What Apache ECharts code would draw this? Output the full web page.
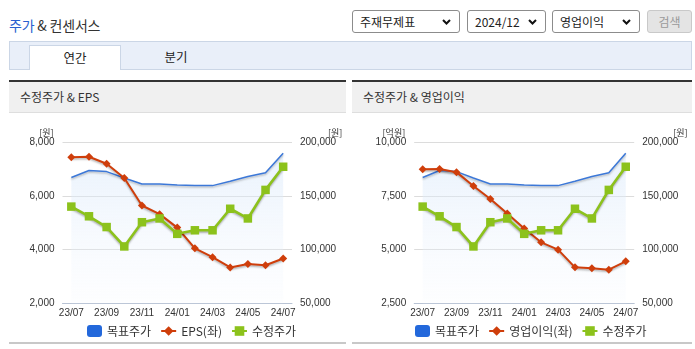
<!DOCTYPE html>
<html><head><meta charset="utf-8">
<script src="https://cdn.jsdelivr.net/npm/echarts@6/dist/echarts.min.js"></script>
<style>
body{margin:0;width:695px;height:349px;background:#fff;position:relative;overflow:hidden;font-family:'Noto Sans CJK KR',sans-serif;color:#333}
.a{position:absolute;box-sizing:border-box}
.title{left:9px;top:13px;font-size:14px;line-height:24px;color:#333;letter-spacing:-0.2px;white-space:nowrap}
.title span{color:#2a5fcf}
.sel{top:10px;height:23px;border:1px solid #8c8c8c;border-radius:3px;background:#fff;font-size:12px;line-height:21px;padding-left:7px;color:#222;white-space:nowrap}
.sel svg{position:absolute;right:8px;top:8px}
.btn{left:647px;top:10px;width:45px;height:23px;border:1px solid #c9c9c9;border-radius:3px;background:#e4e4e4;color:#9a9a9a;font-size:12px;line-height:21px;text-align:center}
.tabbar{left:9px;top:41px;width:683px;height:29px;background:#e9eff9;border:1px solid #cbd6e6}
.tab{left:29px;top:45px;width:92px;height:25px;background:#fff;border:1px solid #cbd6e6;border-bottom:none;font-size:12.5px;line-height:23px;text-align:center;color:#222}
.tab2{left:150px;top:45px;width:52px;height:24px;font-size:12.5px;line-height:23px;text-align:center;color:#222}
.ph{top:80px;height:33px;border-top:2px solid #333;background:#f0f0f0;border-bottom:1px solid #dedede;font-size:12px;line-height:30px;padding-left:11px;color:#333;white-space:nowrap}
.bl{top:342px;height:2px;background:#c8c8c8}
</style></head>
<body>
<div class="a title"><span>주가</span> &amp; 컨센서스</div>
<div class="a sel" style="left:352px;width:108px">주재무제표<svg width="9" height="6"><polyline points="1,1 4.5,4.5 8,1" fill="none" stroke="#111" stroke-width="2"/></svg></div>
<div class="a sel" style="left:467px;width:79px">2024/12<svg width="9" height="6"><polyline points="1,1 4.5,4.5 8,1" fill="none" stroke="#111" stroke-width="2"/></svg></div>
<div class="a sel" style="left:552px;width:88px">영업이익<svg width="9" height="6"><polyline points="1,1 4.5,4.5 8,1" fill="none" stroke="#111" stroke-width="2"/></svg></div>
<div class="a btn">검색</div>
<div class="a tabbar"></div>
<div class="a tab">연간</div>
<div class="a tab2">분기</div>
<div class="a ph" style="left:9px;width:337px">수정주가 &amp; EPS</div>
<div class="a ph" style="left:352px;width:340px">수정주가 &amp; 영업이익</div>
<div class="a bl" style="left:9px;width:337px"></div>
<div class="a bl" style="left:352px;width:340px"></div>
<div id="c1" class="a" style="left:9px;top:112px;width:337px;height:230px"></div>
<div id="c2" class="a" style="left:352px;top:112px;width:340px;height:230px"></div>
<script>
const categories = ['23/07','23/08','23/09','23/10','23/11','23/12','24/01','24/02','24/03','24/04','24/05','24/06','24/07'];
const targetPrice = [167000,173500,172500,166500,161000,161000,160000,159500,159500,163500,168000,171500,189500];
const adjPrice = [140000,131000,121000,103000,125500,129000,114700,118000,118000,138000,129000,155500,177000];
const eps = [7430,7450,7190,6660,5640,5320,4820,4050,3720,3340,3470,3420,3670];
const opProfit = [8740,8750,8600,7960,7350,6680,5980,5340,5000,4180,4140,4070,4460];

const NUMFONT = "'Liberation Sans Narrow','Arial Narrow','Liberation Sans',sans-serif";
const KFONT = "'Noto Sans CJK KR',sans-serif";
const fmt = v => v.toLocaleString('en-US');

function build(cfg){
  const axisCol = '#b8c3d4';
  return {
    animation:false,
    grid:{left:cfg.gridLeft, top:30, width:cfg.gridWidth, height:161.5},
    legend:{
      top:208, left:cfg.legendLeft, itemWidth:15, itemHeight:12, itemGap:9,
      textStyle:{fontSize:12, color:'#333', fontFamily:KFONT},
      data:[{name:'목표주가', icon:'roundRect'}, {name:cfg.leftName}, {name:'수정주가'}]
    },
    xAxis:{
      type:'category', data:categories, boundaryGap:true,
      axisLine:{lineStyle:{color:axisCol}},
      axisTick:{interval:(i)=> i%2===1, length:4, lineStyle:{color:axisCol}},
      axisLabel:{interval:1, margin:5, fontSize:10, color:'#333', fontFamily:NUMFONT},
      splitLine:{show:false}
    },
    yAxis:[
      {type:'value', min:cfg.lMin, max:cfg.lMax, interval:cfg.lInt, position:'left',
       name:cfg.lUnit, nameLocation:'end', nameGap:9,
       nameTextStyle:{align:'right', verticalAlign:'middle', padding:[0,9,0,0], fontSize:9, color:'#333', fontFamily:KFONT},
       axisLine:{show:false}, axisTick:{show:false},
       axisLabel:{margin:8, fontSize:10, color:'#333', fontFamily:NUMFONT, formatter:fmt},
       splitLine:{lineStyle:{color:'#dcdcdc'}}},
      {type:'value', min:50000, max:200000, interval:50000, position:'right',
       name:'[원]', nameLocation:'end', nameGap:9,
       nameTextStyle:{align:'left', verticalAlign:'middle', padding:[0,0,0,cfg.rPad], fontSize:9, color:'#333', fontFamily:KFONT},
       axisLine:{show:false}, axisTick:{show:false},
       axisLabel:{margin:8, fontSize:10, color:'#333', fontFamily:NUMFONT, formatter:fmt},
       splitLine:{show:false}}
    ],
    series:[
      {name:'목표주가', type:'line', yAxisIndex:1, data:targetPrice, showSymbol:false, symbol:'none',
       itemStyle:{color:'#2368db'},
       lineStyle:{color:'#3c78d8', width:1.5, shadowColor:'rgba(0,0,0,0.25)', shadowBlur:2, shadowOffsetY:1.5},
       areaStyle:{color:new echarts.graphic.LinearGradient(0,0,0,1,[
         {offset:0,color:'rgba(214,231,250,0.75)'},{offset:1,color:'rgba(240,245,253,0.2)'}])},
       z:1},
      {name:cfg.leftName, type:'line', yAxisIndex:0, data:cfg.leftData, symbol:'diamond', symbolSize:8,
       itemStyle:{color:'#cf3e0b'},
       lineStyle:{color:'#cf3e0b', width:2, shadowColor:'rgba(0,0,0,0.3)', shadowBlur:2, shadowOffsetY:1.5},
       z:2},
      {name:'수정주가', type:'line', yAxisIndex:1, data:adjPrice, symbol:'rect', symbolSize:8.5,
       itemStyle:{color:'#8cc21c'},
       lineStyle:{color:'#8cc21c', width:2.6, shadowColor:'rgba(0,0,0,0.3)', shadowBlur:2, shadowOffsetY:1.5},
       z:3}
    ]
  };
}

const ch1 = echarts.init(document.getElementById('c1'));
ch1.setOption(build({leftName:'EPS(좌)', leftData:eps, lMin:2000, lMax:8000, lInt:2000, lUnit:'[원]',
  gridLeft:53.5, gridWidth:229.5, legendLeft:73, rPad:36}));
const ch2 = echarts.init(document.getElementById('c2'));
ch2.setOption(build({leftName:'영업이익(좌)', leftData:opProfit, lMin:2500, lMax:10000, lInt:2500, lUnit:'[억원]',
  gridLeft:62.2, gridWidth:220, legendLeft:58, rPad:39}));
</script>
</body></html>
